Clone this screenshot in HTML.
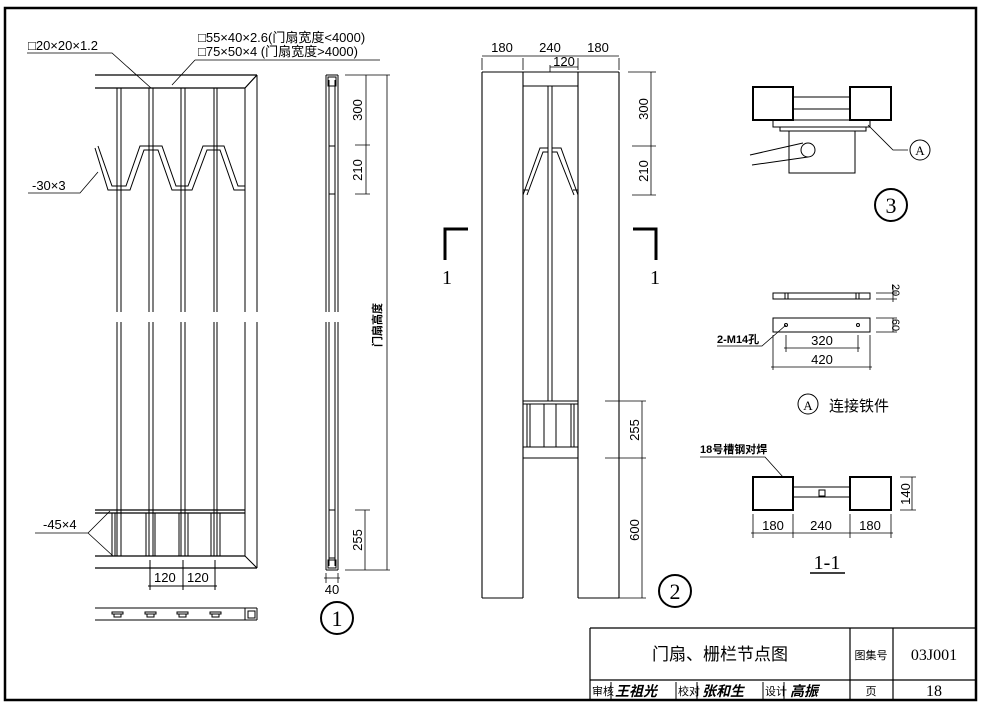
<!DOCTYPE html>
<html><head><meta charset="utf-8"><style>
html,body{margin:0;padding:0;background:#fff;}
svg{display:block;}
text{font-family:"Liberation Sans","Noto Sans CJK SC",sans-serif;fill:#000;}
.s{font-family:"Liberation Serif","Noto Serif CJK SC",serif;}
</style></head><body>
<svg width="981" height="704" viewBox="0 0 981 704" xmlns="http://www.w3.org/2000/svg" fill="none" stroke="#000" stroke-width="1">
<!-- border -->
<path d="M5 8 H976 V700 H5 Z" stroke-width="2.5"/>
<!-- title block -->
<path d="M590 628 H976 M590 628 V700 M850 628 V700 M893 628 V700 M590 680 H976" stroke-width="1.2"/>
<g stroke="none">
<text x="720" y="660" font-size="17" text-anchor="middle">门扇、栅栏节点图</text>
<text x="871" y="659" font-size="11" text-anchor="middle">图集号</text>
<text x="934" y="660" font-size="16" text-anchor="middle" class="s">03J001</text>
<text x="871" y="695" font-size="11" text-anchor="middle">页</text>
<text x="934" y="696" font-size="16" text-anchor="middle" class="s">18</text>
<text x="592" y="695" font-size="11">审核</text>
<text x="615" y="696" font-size="14" font-weight="bold" font-style="italic">王祖光</text>
<text x="678" y="695" font-size="11">校对</text>
<text x="702" y="696" font-size="14" font-weight="bold" font-style="italic">张和生</text>
<text x="765" y="695" font-size="11">设计</text>
<text x="790" y="696" font-size="14" font-weight="bold" font-style="italic">高振</text>
</g>
<path d="M611 682 V699 M676 682 V699 M697 682 V699 M763 682 V699 M784 682 V699"/>

<!-- ===== Drawing 1 left elevation ===== -->
<path d="M95 75 H257 M95 88 H245 M257 75 L245 88" stroke-width="1.2"/>
<path d="M245 88 V312 M257 75 V312 M245 322 V556 M257 322 V568 M245 556 L257 568"/>
<g>
<path d="M117 88 V312 M121 88 V312 M149 88 V312 M153 88 V312 M181 88 V312 M185 88 V312 M214 88 V312 M217 88 V312"/>
<path d="M117 322 V556 M121 322 V556 M149 322 V556 M153 322 V556 M181 322 V556 M185 322 V556 M214 322 V556 M217 322 V556"/>
</g>
<!-- zigzag -->
<path d="M95 148 L108 190 H130 L144 150 H158 L172 190 H192 L207 150 H220 L234 190 H245" />
<path d="M98 146 L112 186 H126 L140 146 H162 L176 186 H188 L203 146 H224 L238 186 H245"/>
<!-- bottom panel -->
<path d="M95 510 H245 M95 513 H245 M95 556 H245 M95 568 H257" stroke-width="1.2"/>
<path d="M112 513 V556 M115 513 V556 M146 513 V556 M155 513 V556 M179 513 V556 M188 513 V556 M211 513 V556 M220 513 V556"/>
<!-- 120 dims -->
<path d="M150 560 V590 M183 560 V590 M215 560 V590 M148 586 H217"/>
<g stroke="none" font-size="13"><text x="154" y="582">120</text><text x="187" y="582">120</text></g>
<!-- plan strip -->
<path d="M95 608 H257 M95 620 H257 M245 608 V620 M257 608 V620 M248 611 H255 V618 H248 Z"/>
<path d="M112 612 H123 V614 H112 Z M114 614 H121 V617 H114 Z M145 612 H156 V614 H145 Z M147 614 H154 V617 H147 Z M177 612 H188 V614 H177 Z M179 614 H186 V617 H179 Z M210 612 H221 V614 H210 Z M212 614 H219 V617 H212 Z"/>
<!-- annotations -->
<g stroke="none" font-size="13" class="s">
<text x="28" y="50">□20×20×1.2</text>
<text x="198" y="42">□55×40×2.6(门扇宽度&lt;4000)</text>
<text x="198" y="56">□75×50×4  (门扇宽度&gt;4000)</text>
<text x="32" y="190">-30×3</text>
<text x="43" y="529">-45×4</text>
</g>
<path d="M27 53 H112 L151 88 M195 60 H380 M195 60 L172 85 M28 193 H80 L98 172 M35 533 H88 L110 511 M88 533 L113 556" stroke-width="0.8"/>

<!-- ===== side view 1 ===== -->
<path d="M326 75 V312 M338 75 V312 M326 322 V570 M338 322 V570 M326 75 H338 M326 570 H338"/>
<path d="M329 80 V312 M335 80 V312 M329 322 V566 M335 322 V566 M328 77 H336 V86 H328 Z M328 560 H336 V568 H328 Z"/>
<rect x="329" y="146" width="6" height="48" fill="#fff"/>
<rect x="329" y="510" width="6" height="48"/>
<path d="M345 75 H390 M355 145 H370 M355 194 H370 M366 75 V194 M387 75 V570 M345 570 H390 M355 510 H370 M365 510 V570 M326 573 V583 M338 573 V583 M324 578 H340" stroke-width="0.8"/>
<g stroke="none" font-size="13">
<text transform="translate(362 110) rotate(-90)" text-anchor="middle">300</text>
<text transform="translate(362 170) rotate(-90)" text-anchor="middle">210</text>
<text transform="translate(362 540) rotate(-90)" text-anchor="middle">255</text>
<text transform="translate(381 325) rotate(-90)" text-anchor="middle" font-size="11" font-weight="bold">门扇高度</text>
<text x="332" y="594" text-anchor="middle">40</text>
<text x="337" y="626" text-anchor="middle" font-size="22" class="s">1</text>
</g>
<circle cx="337" cy="618" r="16" stroke-width="2"/>

<!-- ===== Drawing 2 ===== -->
<path d="M482 72 H523 M578 72 H619 M482 72 V598 M523 72 V598 M578 72 V598 M619 72 V598 M482 598 H523 M578 598 H619" stroke-width="1.1"/>
<path d="M523 72 H578 M523 86 H578 M548 86 V401 M552 86 V401"/>
<path d="M523 195 L540 148 H548 M578 195 L561 148 H552 M527 195 L543 152 H548 M574 195 L557 152 H552 M523 190 H528 M578 190 H573"/>
<path d="M523 401 H578 M523 404 H578 M523 447 H578 M523 458 H578 M527 404 V447 M530 404 V447 M544 404 V447 M556 404 V447 M571 404 V447 M574 404 V447" />
<path d="M482 58 V70 M523 58 V70 M578 58 V70 M619 58 V70 M482 56 H619 M550 65 V72 M550 67 H578 M628 72 H656 M632 146 H656 M632 195 H656 M651 72 V195 M605 401 H646 M605 458 H646 M642 401 V598 M619 598 H646" stroke-width="0.8"/>
<g stroke="none" font-size="13">
<text x="502" y="52" text-anchor="middle">180</text>
<text x="550" y="52" text-anchor="middle">240</text>
<text x="598" y="52" text-anchor="middle">180</text>
<text x="564" y="66" text-anchor="middle">120</text>
<text transform="translate(648 109) rotate(-90)" text-anchor="middle">300</text>
<text transform="translate(648 171) rotate(-90)" text-anchor="middle">210</text>
<text transform="translate(639 430) rotate(-90)" text-anchor="middle">255</text>
<text transform="translate(639 530) rotate(-90)" text-anchor="middle">600</text>
<text x="675" y="599" text-anchor="middle" font-size="22" class="s">2</text>
<text x="447" y="284" text-anchor="middle" font-size="20" class="s">1</text>
<text x="655" y="284" text-anchor="middle" font-size="20" class="s">1</text>
</g>
<circle cx="675" cy="591" r="16" stroke-width="2"/>
<path d="M445 260 V229 H468 M633 229 H656 V260" stroke-width="3"/>

<!-- ===== Detail 3 ===== -->
<rect x="753" y="87" width="40" height="33" stroke-width="2"/>
<rect x="850" y="87" width="41" height="33" stroke-width="2"/>
<path d="M793 97 H850 M793 109 H850 M773 120 H870 V127 H773 Z M780 127 H866 V131 H780 Z M789 131 V173 H855 V131"/>
<path d="M750 155 L803 143 M752 165 L808 157"/>
<circle cx="808" cy="150" r="7"/>
<path d="M868 125 L893 150 H908" stroke-width="0.8"/>
<circle cx="920" cy="150" r="10"/>
<circle cx="891" cy="205" r="16" stroke-width="2"/>
<g stroke="none">
<text x="920" y="155" text-anchor="middle" font-size="13" class="s">A</text>
<text x="891" y="213" text-anchor="middle" font-size="22" class="s">3</text>
</g>

<!-- ===== Detail A ===== -->
<path d="M773 293 H870 V299 H773 Z M785 293 V299 M788 293 V299 M856 293 V299 M859 293 V299"/>
<rect x="773" y="318" width="97" height="14"/>
<circle cx="786" cy="325" r="1.5"/><circle cx="858" cy="325" r="1.5"/>
<path d="M876 293 H897 M876 299 H897 M893 285 V302 M876 318 H897 M876 332 H897 M893 318 V332 M786 335 V352 M858 335 V352 M784 348 H860 M773 335 V370 M870 335 V370 M771 367 H872 M717 346 H762 L786 325" stroke-width="0.8"/>
<g stroke="none" font-size="13">
<text transform="translate(892 290) rotate(90)" text-anchor="middle" font-size="11">20</text>
<text transform="translate(892 325) rotate(90)" text-anchor="middle" font-size="11">60</text>
<text x="822" y="345" text-anchor="middle">320</text>
<text x="822" y="364" text-anchor="middle">420</text>
<text x="717" y="343" font-size="11" font-weight="bold">2-M14孔</text>
<text x="808" y="410" text-anchor="middle" font-size="13" class="s">A</text>
<text x="829" y="411" font-size="15">连接铁件</text>
<text x="700" y="453" font-size="11" font-weight="bold">18号槽钢对焊</text>
</g>
<circle cx="808" cy="404" r="10"/>

<!-- ===== 1-1 ===== -->
<rect x="753" y="477" width="40" height="33" stroke-width="2"/>
<rect x="850" y="477" width="41" height="33" stroke-width="2"/>
<path d="M793 487 H850 M793 497 H850 M819 490 H825 V496 H819 Z"/>
<path d="M700 457 H765 L783 477 M900 477 H916 M900 510 H916 M912 477 V510 M753 514 V538 M793 514 V538 M850 514 V538 M891 514 V538 M751 533 H893" stroke-width="0.8"/>
<g stroke="none" font-size="13">
<text transform="translate(910 494) rotate(-90)" text-anchor="middle">140</text>
<text x="773" y="530" text-anchor="middle">180</text>
<text x="821" y="530" text-anchor="middle">240</text>
<text x="870" y="530" text-anchor="middle">180</text>
<text x="827" y="569" text-anchor="middle" font-size="20" class="s">1-1</text>
</g>
<path d="M810 573 H845" stroke-width="1.5"/>
</svg>
</body></html>
